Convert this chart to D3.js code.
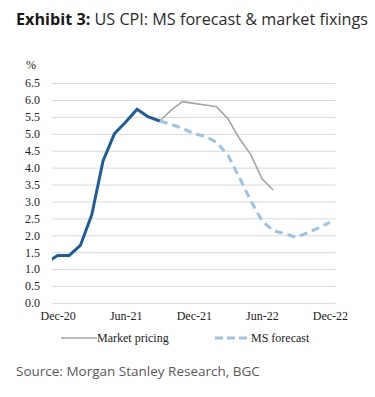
<!DOCTYPE html>
<html>
<head>
<meta charset="utf-8">
<script src="https://cdn.jsdelivr.net/npm/d3@7"></script>
<style>
  html, body { margin: 0; padding: 0; background: #fff; }
  svg { display: block; }
</style>
</head>
<body>
<div id="chart"></div>
<script>
// 월 (Nov-20 은 플롯 왼쪽 끝에서 잘림)
const months = ['Nov-20', 'Dec-20', 'Jan-21', 'Feb-21', 'Mar-21', 'Apr-21', 'May-21', 'Jun-21',
  'Jul-21', 'Aug-21', 'Sep-21', 'Oct-21', 'Nov-21', 'Dec-21', 'Jan-22', 'Feb-22', 'Mar-22',
  'Apr-22', 'May-22', 'Jun-22', 'Jul-22', 'Aug-22', 'Sep-22', 'Oct-22', 'Nov-22', 'Dec-22'];
const tickMonths = ['Dec-20', 'Jun-21', 'Dec-21', 'Jun-22', 'Dec-22'];
const yTicks = d3.range(0, 6.51, 0.5);

// 실제 CPI (Nov-20 ~ Sep-21)
const actualMonths = months.slice(0, 11);
const actualValues = [1.2, 1.4, 1.4, 1.7, 2.6, 4.2, 5.0, 5.35, 5.73, 5.5, 5.38];

// 시장 가격 (Sep-21 ~ Jul-22)
const marketMonths = months.slice(10, 21);
const marketValues = [5.38, 5.7, 5.95, 5.9, 5.85, 5.8, 5.45, 4.87, 4.4, 3.68, 3.34];

// MS 전망 (Sep-21 ~ Dec-22)
const forecastMonths = months.slice(10);
const forecastValues = [5.38, 5.28, 5.17, 5.0, 4.93, 4.75, 4.37, 3.72, 3.04, 2.43, 2.13, 2.05,
  1.94, 2.07, 2.22, 2.38];

const W = 375, H = 397;
const plot = { left: 52, right: 335.6, top: 83.1, bottom: 302.9 };
const step = (plot.right - plot.left) / 25;

const svg = d3.select('#chart').append('svg')
  .attr('width', W).attr('height', H);

// 제목
const title = svg.append('text')
  .attr('x', 16).attr('y', 25)
  .style('font-family', '"Open Sans", sans-serif')
  .style('font-size', '16.2px')
  .style('fill', '#2b2b2b');
title.append('tspan').style('font-weight', '700').style('fill', '#1a1a1a').text('Exhibit 3:');
title.append('tspan').text(' US CPI: MS forecast & market fixings');

const x = d3.scalePoint()
  .domain(months)
  .range([plot.left + step / 2 - step, plot.right - step / 2]);

const y = d3.scaleLinear()
  .domain([0, 6.5])
  .range([plot.bottom, plot.top]);

const serif = '"Liberation Serif", "Times New Roman", serif';

// 그리드 + y 축
const yAxis = svg.append('g')
  .attr('transform', `translate(${plot.left},0)`)
  .call(d3.axisLeft(y).tickValues(yTicks).tickFormat(d3.format('.1f'))
    .tickSize(-(plot.right - plot.left)).tickPadding(12));
yAxis.select('.domain').remove();
yAxis.selectAll('line').attr('stroke', '#d9d9d9').attr('stroke-width', 1);
yAxis.selectAll('text')
  .style('font-family', serif).style('font-size', '12px').style('fill', '#222');

svg.append('text')
  .attr('x', 26).attr('y', 69)
  .style('font-family', serif).style('font-size', '12px').style('fill', '#222')
  .text('%');

// x 축
const xAxis = svg.append('g')
  .attr('transform', `translate(0,${plot.bottom})`)
  .call(d3.axisBottom(x).tickValues(tickMonths).tickSize(0).tickPadding(9));
xAxis.select('.domain').remove();
xAxis.selectAll('text')
  .style('font-family', serif).style('font-size', '12px').style('fill', '#222');

// 클립
svg.append('clipPath').attr('id', 'plot-clip')
  .append('rect')
  .attr('x', plot.left).attr('y', 0)
  .attr('width', plot.right - plot.left).attr('height', H);

const line = d3.line()
  .x(d => x(d[0]))
  .y(d => y(d[1]));

const lines = svg.append('g').attr('clip-path', 'url(#plot-clip)');

lines.append('path')
  .datum(d3.zip(marketMonths, marketValues))
  .attr('d', line)
  .attr('fill', 'none')
  .attr('stroke', '#a5a5a5')
  .attr('stroke-width', 1.6);

lines.append('path')
  .datum(d3.zip(forecastMonths, forecastValues))
  .attr('d', line)
  .attr('fill', 'none')
  .attr('stroke', '#9dc3e6')
  .attr('stroke-width', 3)
  .attr('stroke-dasharray', '8,5');

lines.append('path')
  .datum(d3.zip(actualMonths, actualValues))
  .attr('d', line)
  .attr('fill', 'none')
  .attr('stroke', '#1f5c9a')
  .attr('stroke-width', 3)
  .attr('stroke-linejoin', 'round');

// 범례
const legend = svg.append('g');
legend.append('line')
  .attr('x1', 61).attr('x2', 97).attr('y1', 338).attr('y2', 338)
  .attr('stroke', '#a5a5a5').attr('stroke-width', 1.6);
legend.append('text')
  .attr('x', 97).attr('y', 342)
  .style('font-family', serif).style('font-size', '12px').style('fill', '#222')
  .text('Market pricing');
legend.append('line')
  .attr('x1', 215).attr('x2', 247).attr('y1', 338).attr('y2', 338)
  .attr('stroke', '#9dc3e6').attr('stroke-width', 3).attr('stroke-dasharray', '8,4');
legend.append('text')
  .attr('x', 251).attr('y', 342)
  .style('font-family', serif).style('font-size', '12px').style('fill', '#222')
  .text('MS forecast');

// 출처
svg.append('text')
  .attr('x', 16).attr('y', 376)
  .style('font-family', '"Open Sans", sans-serif')
  .style('font-size', '13.5px')
  .style('fill', '#595959')
  .text('Source: Morgan Stanley Research, BGC');
</script>
</body>
</html>
